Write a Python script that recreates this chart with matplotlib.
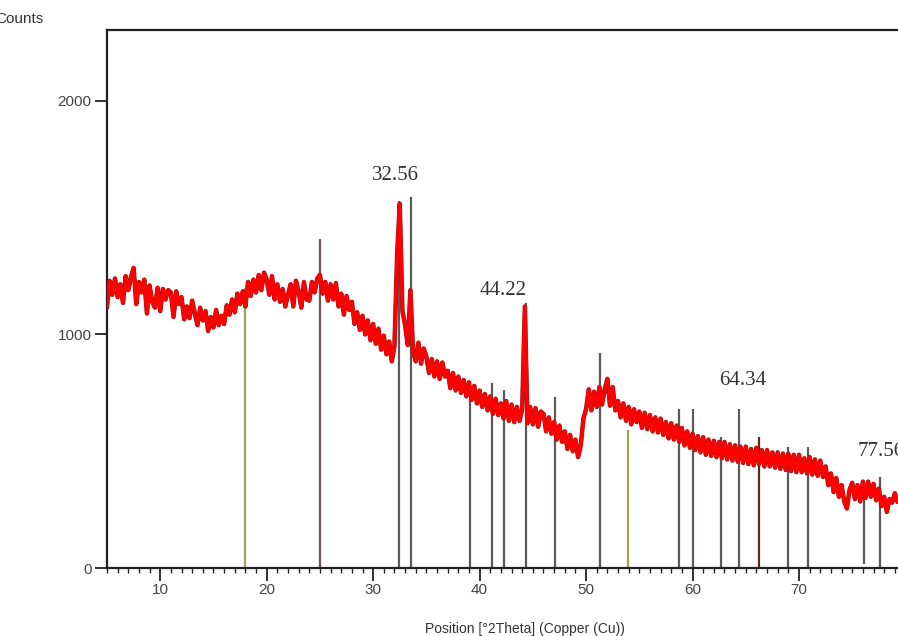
import numpy as np
import matplotlib
matplotlib.use("Agg")
from matplotlib import pyplot as plt
from matplotlib.ticker import MultipleLocator

# -----------------------------
# Data (2theta step 0.25 deg, starting at 5.0)
# -----------------------------
theta_start = 5.0
theta_step = 0.25
counts = [
    1120, 1230, 1170, 1240,   # 5
    1160, 1215, 1135, 1250,   # 6
    1190, 1245, 1285, 1130,   # 7
    1225, 1180, 1235, 1090,   # 8
    1210, 1140, 1115, 1200,   # 9
    1100, 1195, 1150, 1190,   # 10
    1180, 1075, 1185, 1130,   # 11
    1160, 1065, 1120, 1070,   # 12
    1145, 1090, 1040, 1115,   # 13
    1060, 1100, 1015, 1075,   # 14
    1030, 1105, 1040, 1080,   # 15
    1045, 1125, 1085, 1150,   # 16
    1095, 1175, 1130, 1185,   # 17
    1120, 1225, 1165, 1235,   # 18
    1180, 1255, 1190, 1265,   # 19
    1235, 1170, 1250, 1150,   # 20
    1215, 1140, 1195, 1120,   # 21
    1170, 1215, 1120, 1230,   # 22
    1185, 1115, 1225, 1150,   # 23
    1145, 1225, 1180, 1240,   # 24
    1255, 1175, 1225, 1145,   # 25
    1215, 1150, 1220, 1120,   # 26
    1175, 1085, 1165, 1105,   # 27
    1140, 1045, 1095, 1020,   # 28
    1080, 1000, 1060, 975,    # 29
    1045, 960, 1025, 935,     # 30
    995, 915, 970, 885,       # 31
    950, 1340, 1560, 1100,    # 32
    1040, 955, 1190, 925,     # 33
    885, 965, 875, 940,       # 34
    905, 835, 895, 820,       # 35
    885, 810, 880, 820,       # 36
    845, 770, 835, 760,       # 37
    820, 750, 805, 735,       # 38
    795, 720, 780, 705,       # 39
    760, 690, 745, 675,       # 40
    735, 660, 725, 655,       # 41
    705, 640, 715, 630,       # 42
    700, 625, 690, 630,       # 43
    680, 1120, 620, 690,      # 44
    615, 685, 605, 670,       # 45
    660, 585, 645, 575,       # 46
    625, 550, 610, 540,       # 47
    585, 510, 570, 500,       # 48
    550, 475, 525, 640,       # 49
    680, 765, 675, 755,       # 50
    690, 775, 700, 765,       # 51
    810, 695, 775, 675,       # 52
    715, 645, 705, 630,       # 53
    690, 615, 680, 625,       # 54
    670, 600, 665, 595,       # 55
    655, 585, 645, 580,       # 56
    640, 570, 625, 555,       # 57
    620, 550, 610, 540,       # 58
    600, 525, 585, 515,       # 59
    575, 505, 565, 495,       # 60
    560, 485, 550, 480,       # 61
    545, 475, 540, 470,       # 62
    540, 465, 530, 460,       # 63
    525, 455, 520, 450,       # 64
    520, 445, 510, 440,       # 65
    515, 445, 505, 435,       # 66
    505, 435, 495, 430,       # 67
    495, 425, 490, 420,       # 68
    490, 415, 485, 410,       # 69
    485, 410, 470, 405,       # 70
    475, 400, 465, 395,       # 71
    460, 390, 435, 355,       # 72
    405, 325, 385, 305,       # 73
    355, 285, 255, 335,       # 74
    365, 295, 355, 285,       # 75
    370, 300, 370, 305,       # 76
    360, 290, 340, 265,       # 77
    305, 240, 295, 280,       # 78
    320, 285,                 # 79
]

# reference peak list (stick positions / heights)
stick_pos = [18.0, 25.0, 32.42, 33.6, 39.08, 41.2, 42.32, 44.4, 47.07, 51.3,
             53.95, 58.75, 60.05, 62.7, 64.4, 66.2, 68.97, 70.8, 76.1, 77.6]
stick_top = [1200, 1409, 1573, 1590, 728, 792, 762, 1135, 732, 920,
             591, 681, 681, 561, 681, 561, 518, 518, 334, 390]
stick_bottom = [0, 0, 0, 0, 0, 0, 0, 0, 0, 0,
                0, 0, 0, 0, 0, 0, 0, 0, 15, 0]
stick_kind = ["olive", "brown", "grey", "grey", "grey", "grey", "grey", "grey", "grey", "grey",
              "olive", "grey", "grey", "grey", "grey", "red", "grey", "grey", "grey", "grey"]

peak_labels = ["32.56", "44.22", "64.34", "77.56"]
label_x = [32.14, 42.23, 64.67, 75.5]
label_y = [1679, 1190, 805, 497]

kind_colors = {"olive": "#a3a35c", "brown": "#6b5656", "grey": "#5f5858", "red": "#6a2418"}

theta = theta_start + theta_step * np.arange(len(counts))

# -----------------------------
# Plot
# -----------------------------
fig = plt.figure(figsize=(8.98, 6.36), dpi=100)
ax = fig.add_axes([107 / 898, 68 / 636, 1 - 107 / 898, 538 / 636])

for x, top, bot, kind in zip(stick_pos, stick_top, stick_bottom, stick_kind):
    ax.vlines(x, bot, top, color=kind_colors[kind], lw=1.6, zorder=2)

# darker trace under the red one gives the dark noise flecks at the edges
ax.plot(theta, counts, color="#8a1a1a", lw=3.2, zorder=3)
ax.plot(theta, counts, color="#ff0000", lw=2.6, zorder=3)

for txt, x, y in zip(peak_labels, label_x, label_y):
    ax.text(x, y, txt, ha="left" if txt == "77.56" else "center", va="center",
            family="Liberation Serif", fontsize=15, color="#333333", zorder=4)

ax.set_xlim(5.0, 79.3)
ax.set_ylim(0, 2304)
ax.xaxis.set_major_locator(MultipleLocator(10))
ax.xaxis.set_minor_locator(MultipleLocator(1))
ax.yaxis.set_major_locator(MultipleLocator(1000))
ax.spines["right"].set_visible(False)
for s in ["left", "bottom", "top"]:
    ax.spines[s].set_linewidth(1.6)
    ax.spines[s].set_color("#222222")

ax.tick_params(axis="both", which="major", direction="out", length=9, width=1.3,
               color="#222222", pad=2)
ax.tick_params(axis="x", which="minor", direction="out", length=3.5, width=1.0,
               color="#222222")
for lab in ax.get_xticklabels() + ax.get_yticklabels():
    lab.set_family("Liberation Sans")
    lab.set_fontsize(11)
    lab.set_color("#444444")

fig.text(-5 / 898, 1 - 19 / 636, "Counts", ha="left", va="center",
         family="Liberation Sans", fontsize=11, color="#333333")
fig.text(525 / 898, 1 - 629 / 636, "Position [°2Theta] (Copper (Cu))", ha="center",
         va="center", family="Liberation Sans", fontsize=10, color="#333333")

fig.savefig("out.png", dpi=100)
